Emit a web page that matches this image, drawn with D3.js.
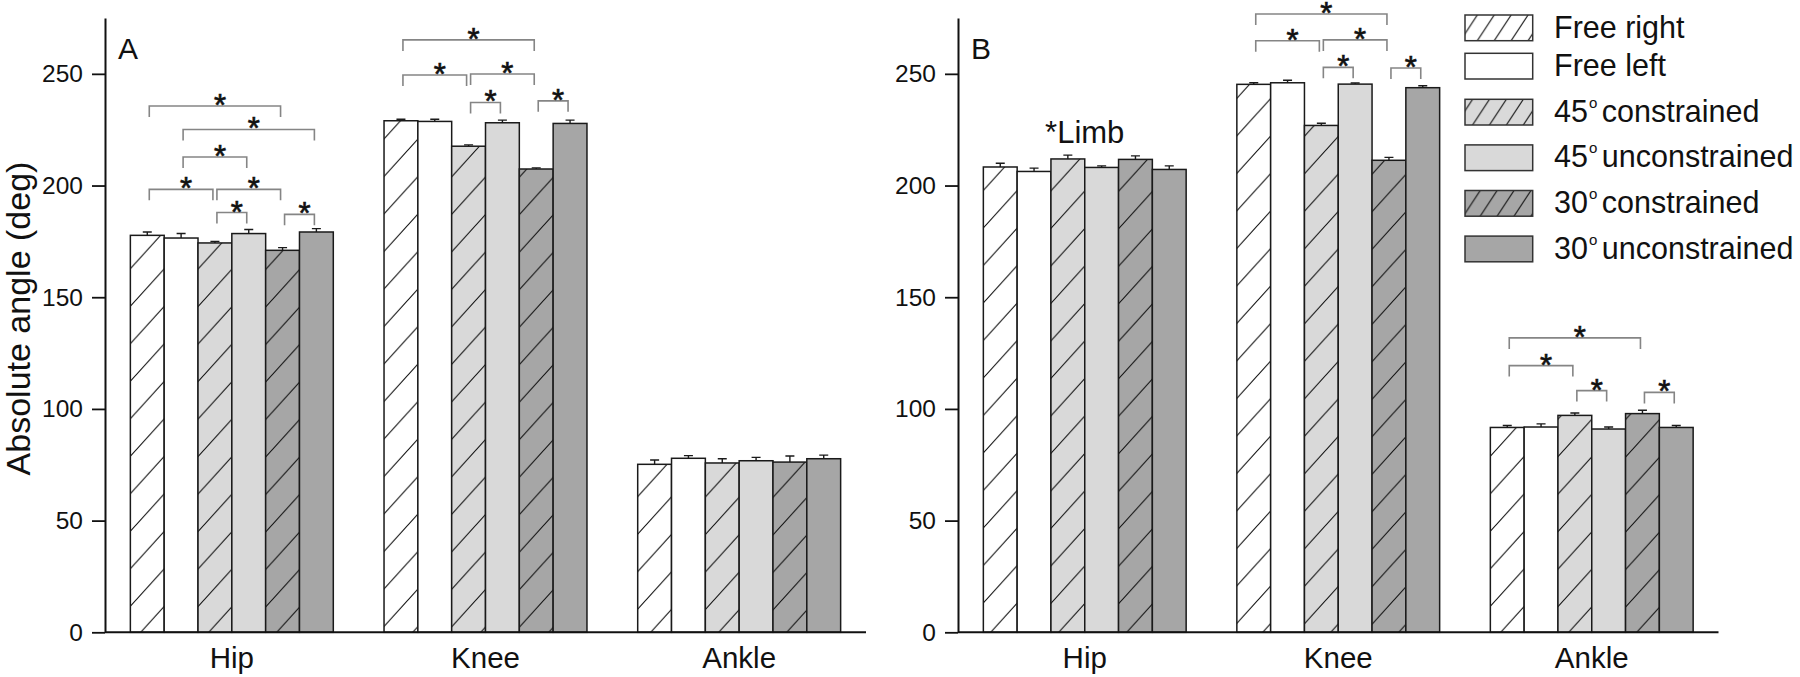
<!DOCTYPE html>
<html>
<head>
<meta charset="utf-8">
<script src="https://cdn.jsdelivr.net/npm/d3@7"></script>
<style>
  html, body { margin: 0; padding: 0; background: #fff; }
  svg { display: block; font-family: "Liberation Sans", Arial, Helvetica, sans-serif; }
</style>
</head>
<body>
<svg id="chart" width="1800" height="677"></svg>
<script>
// ---------- data ----------
const groups = ["Hip", "Knee", "Ankle"];
const seriesNames = ["Free right", "Free left", "45° constrained", "45° unconstrained", "30° constrained", "30° unconstrained"];
const yTicks = [0, 50, 100, 150, 200, 250];

// Panel A means and error (one row per joint)
const meansA = [
  [177.7, 176.5, 174.3, 178.5, 171.0, 179.2],
  [229.0, 228.7, 217.6, 228.1, 207.4, 227.8],
  [75.2, 77.9, 75.8, 76.8, 76.2, 77.7]
];
const errA = [
  [1.5, 2.0, 0.7, 1.8, 1.2, 1.5],
  [0.7, 1.0, 0.6, 1.2, 0.5, 1.5],
  [1.9, 1.2, 1.9, 1.5, 2.7, 1.6]
];
// Panel B
const meansB = [
  [208.3, 206.3, 211.9, 208.1, 211.7, 207.2],
  [245.3, 246.0, 226.9, 245.4, 211.3, 243.8],
  [91.7, 91.9, 97.1, 91.0, 97.9, 91.7]
];
const errB = [
  [1.7, 1.5, 1.7, 0.7, 1.6, 1.6],
  [0.7, 1.1, 1.0, 0.5, 1.3, 0.9],
  [0.9, 1.4, 1.1, 0.9, 1.5, 0.9]
];
// significance brackets: [group, fromSeries, toSeries, level (deg)]
const bracketsA = [
  [0, 0, 4, 235.6], [0, 1, 5, 225.1], [0, 1, 3, 212.8], [0, 0, 2, 198.3],
  [0, 2, 4, 198.3], [0, 2, 3, 187.9], [0, 4, 5, 187.1],
  [1, 0, 4, 265.2], [1, 0, 2, 249.5], [1, 2, 4, 249.9], [1, 2, 3, 237.2], [1, 4, 5, 237.9]
];
const bracketsB = [
  [1, 0, 4, 276.8], [1, 0, 2, 264.8], [1, 2, 4, 265.2], [1, 2, 3, 252.9], [1, 4, 5, 252.6],
  [2, 0, 4, 131.8], [2, 0, 2, 119.4], [2, 2, 3, 108.2], [2, 4, 5, 107.4]
];
// text annotation: [group, level, text]
const notesB = [[0, 219, "*Limb"]];

// ---------- styles ----------
const FONT = '"Liberation Sans", Arial, Helvetica, sans-serif';
const LIGHT = "#d9d9d9", DARK = "#a6a6a6";
const barFills = ["url(#hW)", "#ffffff", "url(#hL)", LIGHT, "url(#hD)", DARK];
const legFills = ["url(#lW)", "#ffffff", "url(#lL)", LIGHT, "url(#lD)", DARK];

const svg = d3.select("#chart");
const defs = svg.append("defs");
function hatch(id, bg, w, h) {
  const p = defs.append("pattern").attr("id", id).attr("patternUnits", "userSpaceOnUse")
    .attr("width", w).attr("height", h);
  p.append("rect").attr("width", w).attr("height", h).attr("fill", bg);
  const k = h / w;
  p.append("path")
    .attr("d", `M0,${h} L${w},0 M-3,${3 * k} L3,${-3 * k} M${w - 3},${h + 3 * k} L${w + 3},${h - 3 * k}`)
    .attr("stroke", "#111").attr("stroke-width", 1.1).attr("fill", "none");
}
hatch("hW", "#ffffff", 34, 37.5);
hatch("hL", LIGHT, 34, 37.5);
hatch("hD", DARK, 34, 37.5);
hatch("lW", "#ffffff", 16.9, 25.7);
hatch("lL", LIGHT, 16.9, 25.7);
hatch("lD", DARK, 16.9, 25.7);

const y = d3.scaleLinear().domain([0, 275]).range([632.3, 18]);

const panels = [
  { x0: 105, x1: 866, means: meansA, errs: errA, brackets: bracketsA, notes: [], label: "A" },
  { x0: 958, x1: 1718.5, means: meansB, errs: errB, brackets: bracketsB, notes: notesB, label: "B" }
];

panels.forEach(P => {
  const g = svg.append("g");
  const gx = d3.scaleBand().domain(groups).range([P.x0, P.x1]).paddingInner(0.2).paddingOuter(0.1);
  const sx = d3.scaleBand().domain(d3.range(seriesNames.length)).range([0, gx.bandwidth()]);
  const cx = (gi, si) => gx(groups[gi]) + sx(si) + sx.bandwidth() / 2;

  // bars
  const rows = [];
  P.means.forEach((row, gi) => row.forEach((v, si) => rows.push({ gi, si, v, e: P.errs[gi][si] })));
  g.selectAll("rect.bar").data(rows).join("rect").attr("class", "bar")
    .attr("x", d => gx(groups[d.gi]) + sx(d.si))
    .attr("y", d => y(d.v))
    .attr("width", sx.bandwidth())
    .attr("height", d => y(0) - y(d.v))
    .attr("fill", d => barFills[d.si])
    .attr("stroke", "#1a1a1a").attr("stroke-width", 1.5);

  // error bars (upper only)
  g.selectAll("path.err").data(rows).join("path").attr("class", "err")
    .attr("d", d => {
      const c = cx(d.gi, d.si), t = y(d.v + d.e);
      return `M${c},${y(d.v)} V${t} M${c - 4.5},${t} H${c + 4.5}`;
    })
    .attr("stroke", "#1a1a1a").attr("stroke-width", 1.4).attr("fill", "none");

  // brackets
  g.selectAll("path.br").data(P.brackets).join("path").attr("class", "br")
    .attr("d", b => {
      const a = cx(b[0], b[1]) + 2, c = cx(b[0], b[2]) - 2, ly = y(b[3]);
      return `M${a},${ly + 11} V${ly} H${c} V${ly + 11}`;
    })
    .attr("stroke", "#858585").attr("stroke-width", 1.6).attr("fill", "none");
  g.selectAll("text.star").data(P.brackets).join("text").attr("class", "star")
    .attr("x", b => (cx(b[0], b[1]) + cx(b[0], b[2])) / 2 + 5)
    .attr("y", b => y(b[3]) + 10)
    .attr("text-anchor", "middle").attr("font-size", 31).attr("fill", "#111")
    .attr("stroke", "#111").attr("stroke-width", 0.7)
    .text("*");

  // notes
  g.selectAll("text.note").data(P.notes).join("text").attr("class", "note")
    .attr("x", n => gx(groups[n[0]]) + gx.bandwidth() / 2)
    .attr("y", n => y(n[1]))
    .attr("text-anchor", "middle").attr("font-size", 31).attr("fill", "#111")
    .text(n => n[2]);

  // y axis
  const ya = g.append("g").attr("transform", `translate(${P.x0},0)`)
    .call(d3.axisLeft(y).tickValues(yTicks).tickSize(13).tickPadding(9).tickSizeOuter(0));
  ya.select(".domain").attr("stroke", "#111").attr("stroke-width", 2);
  ya.selectAll(".tick line").attr("stroke", "#111").attr("stroke-width", 1.8);
  ya.selectAll(".tick text").attr("font-size", 24.5).attr("font-family", FONT).attr("fill", "#111");

  // x axis line
  g.append("line").attr("x1", P.x0).attr("x2", P.x1).attr("y1", y(0)).attr("y2", y(0))
    .attr("stroke", "#111").attr("stroke-width", 2);
  g.selectAll("text.grp").data(groups).join("text").attr("class", "grp")
    .attr("x", d => gx(d) + gx.bandwidth() / 2).attr("y", 668)
    .attr("text-anchor", "middle").attr("font-size", 29.5).attr("fill", "#111").text(d => d);

  // panel letter
  g.append("text").attr("x", P.x0 + 13).attr("y", 58.5).attr("font-size", 30).attr("fill", "#111").text(P.label);
});

// y-axis title
svg.append("text").attr("transform", "translate(29.5,318.5) rotate(-90)")
  .attr("text-anchor", "middle").attr("font-size", 34).attr("fill", "#111")
  .text("Absolute angle (deg)");

// legend
const leg = svg.append("g");
seriesNames.forEach((name, i) => {
  const top = i < 2 ? 15 + i * 38.3 : 99.3 + (i - 2) * 45.6;
  leg.append("rect").attr("x", 1465).attr("y", top).attr("width", 67.7).attr("height", 25.7)
    .attr("fill", legFills[i]).attr("stroke", "#333").attr("stroke-width", 1.5);
  const t = leg.append("text").attr("x", 1554).attr("y", top + 22.5).attr("font-size", 30.5).attr("fill", "#111");
  const parts = name.split("°");
  if (parts.length === 1) {
    t.text(name);
  } else {
    t.append("tspan").text(parts[0]);
    t.append("tspan").attr("font-size", 15).attr("dy", -14).attr("dx", 1).text("o");
    t.append("tspan").attr("dy", 14).attr("dx", 4.5).text(parts[1].trim());
  }
});
</script>
</body>
</html>
